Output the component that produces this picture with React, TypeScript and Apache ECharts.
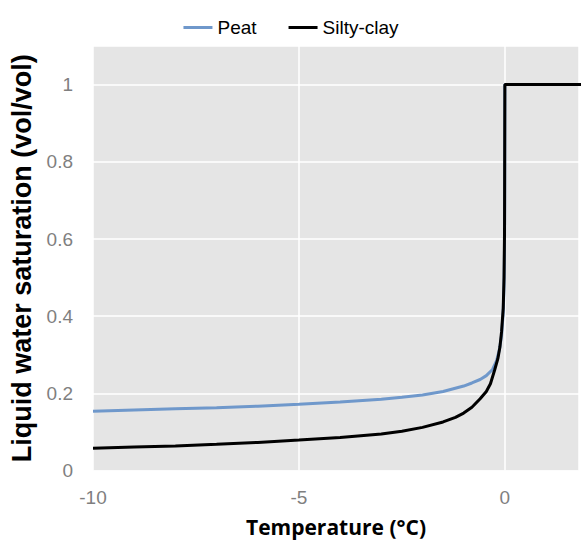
import { useEffect, useRef } from "react";
import * as echarts from "echarts";

const seriesNames = ["Peat", "Silty-clay"];
const seriesColors = ["#6f98cb", "#000000"];

const peatTemps = [-10, -9, -8, -7, -6, -5, -4, -3, -2.5, -2, -1.5, -1, -0.8, -0.6, -0.45, -0.3, -0.2, -0.13, -0.08, -0.04, -0.02, -0.01, -0.004, 0, 2];
const peatValues = [0.154, 0.157, 0.16, 0.163, 0.167, 0.172, 0.178, 0.185, 0.19, 0.196, 0.205, 0.219, 0.227, 0.236, 0.246, 0.262, 0.285, 0.315, 0.35, 0.41, 0.48, 0.56, 0.7, 1, 1];

const clayTemps = [-10, -9, -8, -7, -6, -5, -4, -3, -2.5, -2, -1.5, -1.2, -1, -0.8, -0.6, -0.45, -0.35, -0.25, -0.17, -0.12, -0.08, -0.04, -0.02, -0.008, 0, 2];
const clayValues = [0.058, 0.061, 0.064, 0.068, 0.073, 0.079, 0.086, 0.095, 0.102, 0.112, 0.126, 0.138, 0.149, 0.164, 0.186, 0.205, 0.225, 0.26, 0.29, 0.32, 0.36, 0.42, 0.5, 0.62, 1, 1];

const xTicks = [-10, -5, 0];
const yTicks = [0, 0.2, 0.4, 0.6, 0.8, 1];

const xTitle = "Temperature (°C)";
const yTitle = "Liquid water saturation (vol/vol)";

function pairs(xs: number[], ys: number[]) {
  return xs.map((x, i) => [x, ys[i]]);
}

export default function App() {
  const ref = useRef<HTMLDivElement>(null);
  useEffect(() => {
    if (!ref.current) return;
    const chart = echarts.init(ref.current, null, { renderer: "svg" });
    const isTick = (v: number, ticks: number[]) => ticks.some((t) => Math.abs(t - v) < 1e-6);
    chart.setOption({
      animation: false,
      legend: {
        top: 13,
        left: "center",
        icon: "rect",
        itemWidth: 29,
        itemHeight: 3,
        itemGap: 32,
        textStyle: { fontFamily: "Liberation Sans", fontSize: 19, color: "#000" },
        data: seriesNames,
      },
      grid: {
        left: 93,
        top: 46,
        right: 0,
        height: 424.6,
        show: true,
        backgroundColor: "#e5e5e5",
        borderWidth: 0,
      },
      xAxis: {
        type: "value",
        min: -10,
        max: 1.8,
        interval: 5,
        name: xTitle,
        nameLocation: "middle",
        nameGap: 46,
        nameTextStyle: { fontFamily: "Open Sans", fontWeight: "bold", fontSize: 21, color: "#000" },
        axisLine: { show: false },
        axisTick: { show: false },
        axisLabel: {
          margin: 17,
          fontFamily: "Liberation Sans",
          fontSize: 19,
          color: "#7f7f7f",
          formatter: (v: number) => (isTick(v, xTicks) ? String(v) : ""),
        },
        splitLine: { show: true, lineStyle: { color: "#ffffff", width: 1.5 } },
      },
      yAxis: {
        type: "value",
        min: 0,
        max: 1.1,
        interval: 0.2,
        name: yTitle,
        nameLocation: "middle",
        nameGap: 58,
        nameTextStyle: { fontFamily: "Liberation Sans", fontWeight: "bold", fontSize: 27, color: "#000" },
        axisLine: { show: false },
        axisTick: { show: false },
        axisLabel: {
          margin: 20,
          fontFamily: "Liberation Sans",
          fontSize: 19,
          color: "#7f7f7f",
          formatter: (v: number) => (isTick(v, yTicks) ? String(Math.round(v * 10) / 10) : ""),
        },
        splitLine: { show: true, lineStyle: { color: "#ffffff", width: 1.5 } },
      },
      series: [
        {
          name: seriesNames[0],
          type: "line",
          symbol: "none",
          data: pairs(peatTemps, peatValues),
          lineStyle: { color: seriesColors[0], width: 3 },
          itemStyle: { color: seriesColors[0] },
        },
        {
          name: seriesNames[1],
          type: "line",
          symbol: "none",
          data: pairs(clayTemps, clayValues),
          lineStyle: { color: seriesColors[1], width: 3 },
          itemStyle: { color: seriesColors[1] },
        },
      ],
    });
    return () => chart.dispose();
  }, []);
  return (
    <div
      ref={ref}
      style={{ position: "fixed", left: 0, top: 0, width: 582, height: 547, background: "#fff" }}
    />
  );
}
